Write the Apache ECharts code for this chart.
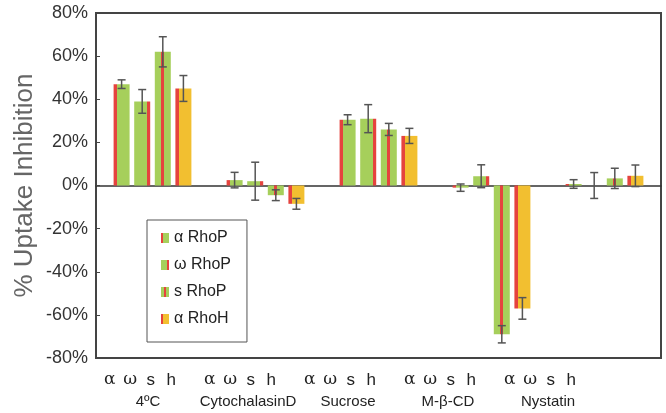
<!DOCTYPE html>
<html>
<head>
<meta charset="utf-8">
<script src="https://cdn.jsdelivr.net/npm/echarts@6/dist/echarts.min.js"></script>
<style>html,body{margin:0;padding:0;background:#fff}#c{width:666px;height:413px}</style>
</head>
<body>
<div id="c"></div>
<script>
var groups = ['4ºC', 'CytochalasinD', 'Sucrose', 'M-β-CD', 'Nystatin'];
var subLabels = ['α', 'ω', 's', 'h'];
var seriesNames = ['α RhoP', 'ω RhoP', 's RhoP', 'α RhoH'];
var yTicks = [-0.8, -0.6, -0.4, -0.2, 0, 0.2, 0.4, 0.6, 0.8];

var alphaRhoP = [47, 2.5, 30.5, -1, 0.7];
var omegaRhoP = [39, 2, 31, 4.3, 0];
var sRhoP = [62, -4.5, 26, -69, 3.3];
var alphaRhoH = [45, -8.5, 23, -57, 4.5];

var alphaRhoPErr = [2, 3.6, 2.3, 1.7, 2];
var omegaRhoPErr = [5.5, 8.8, 6.5, 5.3, 6];
var sRhoPErr = [7, 2.5, 2.8, 4, 4.7];
var alphaRhoHErr = [6, 2.5, 3.5, 5, 5];

var values = [alphaRhoP, omegaRhoP, sRhoP, alphaRhoH];
var errors = [alphaRhoPErr, omegaRhoPErr, sRhoPErr, alphaRhoHErr];

var RED = '#e5433e', GREEN = '#a6cf5b', ORANGE = '#f2bf30';
function grad(stops) {
  return { type: 'linear', x: 0, y: 0, x2: 1, y2: 0, colorStops: stops };
}
var fills = [
  grad([{offset:0,color:RED},{offset:0.2,color:RED},{offset:0.2,color:GREEN},{offset:1,color:GREEN}]),
  grad([{offset:0,color:GREEN},{offset:0.8,color:GREEN},{offset:0.8,color:RED},{offset:1,color:RED}]),
  grad([{offset:0,color:GREEN},{offset:0.4,color:GREEN},{offset:0.4,color:RED},{offset:0.58,color:RED},{offset:0.58,color:GREEN},{offset:1,color:GREEN}]),
  grad([{offset:0,color:RED},{offset:0.25,color:RED},{offset:0.25,color:ORANGE},{offset:1,color:ORANGE}])
];

var BAR_W = 16, BAR_GAP = 4.6;
var series = [];
values.forEach(function (vals, i) {
  series.push({
    name: seriesNames[i], type: 'bar', xAxisIndex: 0, yAxisIndex: 0,
    data: vals.map(function (v) { return v / 100; }),
    barWidth: BAR_W, barGap: (BAR_GAP / BAR_W * 100) + '%',
    itemStyle: { color: fills[i] },
    z: 2
  });
});
values.forEach(function (vals, i) {
  var offset = (i - 1.5) * (BAR_W + BAR_GAP);
  series.push({
    type: 'custom', xAxisIndex: 0, yAxisIndex: 0, z: 5, silent: true,
    data: vals.map(function (v, k) { return [k, v / 100, errors[i][k] / 100]; }),
    renderItem: function (params, api) {
      var x = api.value(0), v = api.value(1), e = api.value(2);
      var hi = api.coord([x, v + e]), lo = api.coord([x, v - e]);
      var cx = hi[0] + offset, cap = 4;
      var st = { stroke: '#555', lineWidth: 1.5 };
      return { type: 'group', children: [
        { type: 'line', shape: { x1: cx, y1: hi[1], x2: cx, y2: lo[1] }, style: st },
        { type: 'line', shape: { x1: cx - cap, y1: hi[1], x2: cx + cap, y2: hi[1] }, style: st },
        { type: 'line', shape: { x1: cx - cap, y1: lo[1], x2: cx + cap, y2: lo[1] }, style: st }
      ]};
    }
  });
});
// dummy series so the label axis renders
series.push({ type: 'bar', xAxisIndex: 1, yAxisIndex: 1, data: groups.map(function(){return null;}), silent: true });

var option = {
  animation: false,
  textStyle: { fontFamily: 'Liberation Sans, Arial, sans-serif' },
  legend: {
    orient: 'vertical', left: 147, top: 220,
    data: seriesNames,
    itemWidth: 8, itemHeight: 10, itemGap: 11,
    padding: [10, 16, 15, 14],
    borderColor: '#555', borderWidth: 1,
    icon: 'rect',
    textStyle: { fontSize: 16, color: '#222', fontFamily: 'Liberation Sans, Arial, sans-serif' }
  },
  grid: [
    { left: 96, right: 5, top: 13, bottom: 55, show: true, borderColor: '#444', borderWidth: 2, backgroundColor: 'transparent' },
    { left: 98, right: 68, top: 13, bottom: 55, show: false }
  ],
  xAxis: [
    { type: 'category', gridIndex: 0, data: groups,
      axisLine: { onZero: true, lineStyle: { color: '#333', width: 1.5 } },
      axisTick: { show: false }, axisLabel: { show: false } },
    { type: 'category', gridIndex: 1, data: groups, position: 'bottom',
      axisLine: { show: false }, axisTick: { show: false },
      axisLabel: {
        margin: 11, interval: 0,
        formatter: function (name) {
          return '{g|α}{g|ω}{s|s}{s|h}{pad|}\n{n|' + name + '}';
        },
        rich: {
          g: { fontSize: 17, width: 20.5, align: 'center', color: '#222', fontFamily: 'DejaVu Serif, serif', lineHeight: 22 },
          s: { fontSize: 17, width: 20.5, align: 'center', color: '#222', lineHeight: 22 },
          pad: { width: 15 },
          n: { fontSize: 15, color: '#222', lineHeight: 22 }
        }
      } }
  ],
  yAxis: [
    { type: 'value', gridIndex: 0, min: -0.8, max: 0.8, interval: 0.2,
      name: '% Uptake Inhibition', nameLocation: 'middle', nameGap: 58, nameMoveOverlap: false,
      nameTextStyle: { fontSize: 26, color: '#666' },
      axisLine: { show: true, lineStyle: { color: '#444', width: 2 } },
      axisTick: { show: true, inside: true, length: 4, lineStyle: { color: '#444' } },
      splitLine: { show: false },
      axisLabel: { fontSize: 18, color: '#333', margin: 8,
        formatter: function (v) { var t = yTicks.filter(function (x) { return Math.abs(x - v) < 1e-9; }); return Math.round((t.length ? t[0] : v) * 100) + '%'; } } },
    { type: 'value', gridIndex: 1, min: -0.8, max: 0.8, show: false }
  ],
  series: series
};
echarts.init(document.getElementById('c')).setOption(option);
</script>
</body>
</html>
